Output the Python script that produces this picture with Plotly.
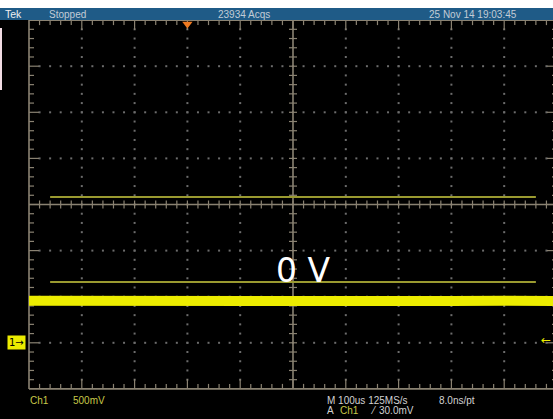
import plotly.graph_objects as go

# ---------------- data ----------------
time_us = [-500, -400, -300, -200, -100, 0, 100, 200, 300, 400, 500]
ch1_volts = [0.455, 0.452, 0.456, 0.454, 0.453, 0.455, 0.454, 0.456, 0.453, 0.455, 0.454]

ref_time_us = [-460, 460]
ref_upper_volts = [1.58, 1.58]
ref_lower_volts = [0.66, 0.66]

trigger_time_us = -200
trigger_level_v = 0.030

top_labels = ["Tek", "Stopped", "23934 Acqs", "25 Nov 14 19:03:45"]
bottom_labels = ["Ch1", "500mV", "M 100us 125MS/s", "8.0ns/pt", "A", "Ch1", "⁄", "30.0mV"]
overlay_label = "0 V"

# ---------------- scope settings ----------------
US_PER_DIV = 100.0
V_PER_DIV = 0.5
CH1_POS_DIV = -3.0          # ground marker position in divisions

W, H = 553, 419
PXX, PXY = 52.8, 46.1       # pixels per division
CX, CY = 293.0, 204.5       # pixel centre of graticule


def xv(div):
    return div * US_PER_DIV


def yv(div):
    return (div - CH1_POS_DIV) * V_PER_DIV


x_range = [xv((0 - CX) / PXX), xv((W - CX) / PXX)]
y_range = [yv((CY - H) / PXY), yv((CY - 0) / PXY)]

GRAT = "#8a8272"
DOT = "#6c6c6c"
YEL = "#ecec00"
OLIVE = "#9a9a30"

fig = go.Figure()

# ---- dotted grid ----
dx, dy = [], []
for xd in range(-4, 5):
    if xd == 0:
        continue
    for k in range(-19, 20):
        dx.append(xv(xd)); dy.append(yv(k / 5))
for yd in range(-3, 4):
    if yd == 0:
        continue
    for k in range(-24, 25):
        dx.append(xv(k / 5)); dy.append(yv(yd))
fig.add_trace(go.Scatter(x=dx, y=dy, mode="markers", hoverinfo="skip",
                         marker=dict(symbol="square", size=2, color=DOT, line_width=0)))

# ---- border and centre lines ----
bx = [xv(-5), xv(5), xv(5), xv(-5), xv(-5), None, xv(-5), xv(5), None, xv(0), xv(0)]
by = [yv(-4), yv(-4), yv(4), yv(4), yv(-4), None, yv(0), yv(0), None, yv(-4), yv(4)]
fig.add_trace(go.Scatter(x=bx, y=by, mode="lines", hoverinfo="skip",
                         line=dict(color=GRAT, width=1.6)))

# ---- ticks ----
tx, ty = [], []
for k in range(-24, 25):
    d = k / 5
    L = (10 if k % 5 == 0 else 5)
    tx += [xv(d), xv(d), None, xv(d), xv(d), None]
    ty += [yv(4), yv(4 - L / PXY), None, yv(-4), yv(-4 + L / PXY), None]
    tx += [xv(d), xv(d), None]
    ty += [yv(-4 / PXY), yv(4 / PXY), None]
for k in range(-19, 20):
    d = k / 5
    L = (10 if k % 5 == 0 else 5)
    tx += [xv(-5), xv(-5 + L / PXX), None, xv(5), xv(5 - L / PXX), None]
    ty += [yv(d), yv(d), None, yv(d), yv(d), None]
    tx += [xv(-4 / PXX), xv(4 / PXX), None]
    ty += [yv(d), yv(d), None]
fig.add_trace(go.Scatter(x=tx, y=ty, mode="lines", hoverinfo="skip",
                         line=dict(color=GRAT, width=1.2)))

# ---- reference lines ----
fig.add_trace(go.Scatter(x=ref_time_us, y=ref_upper_volts, mode="lines", hoverinfo="skip",
                         line=dict(color=OLIVE, width=2)))
fig.add_trace(go.Scatter(x=ref_time_us, y=ref_lower_volts, mode="lines", hoverinfo="skip",
                         line=dict(color=OLIVE, width=2)))

# ---- CH1 waveform ----
fig.add_trace(go.Scatter(x=time_us, y=ch1_volts, mode="lines", hoverinfo="skip",
                         line=dict(color=YEL, width=10)))

# ---- trigger position marker ----
fig.add_trace(go.Scatter(x=[trigger_time_us], y=[yv(4 - 4 / PXY)], mode="markers", hoverinfo="skip",
                         marker=dict(symbol="triangle-down", size=9, color="#f07a20", line_width=0)))

shapes = [
    dict(type="rect", xref="paper", yref="paper", x0=0, x1=1, y0=1 - 8 / H, y1=1,
         fillcolor="white", line_width=0, layer="above"),
    dict(type="rect", xref="paper", yref="paper", x0=0, x1=1, y0=1 - 20 / H, y1=1 - 8 / H,
         fillcolor="#1f5b87", line_width=0, layer="above"),
    dict(type="rect", xref="paper", yref="paper", x0=0, x1=2 / W, y0=1 - 90 / H, y1=1 - 28 / H,
         fillcolor="#f2dce4", line_width=0, layer="above"),
]


def px_ann(text, px, py, color, size=10, family="Liberation Sans", **kw):
    return dict(text=text, x=px / W, y=1 - py / H, xref="paper", yref="paper",
                xanchor="left", yanchor="middle", showarrow=False,
                font=dict(color=color, size=size, family=family), **kw)


BAR_TXT = "#c2ccd6"
WH = "#d2d2d2"
CHY = "#c8c848"
anns = [
    px_ann(top_labels[0], 3, 14, "#f0f0f0", size=10.5),
    px_ann(top_labels[1], 47, 14, BAR_TXT),
    px_ann(top_labels[2], 216, 14, BAR_TXT),
    px_ann(top_labels[3], 427, 14, BAR_TXT),
    px_ann(bottom_labels[0], 28, 400, CHY),
    px_ann(bottom_labels[1], 71, 400, CHY),
    px_ann(bottom_labels[2], 325, 400, WH),
    px_ann(bottom_labels[3], 437, 400, WH),
    px_ann(bottom_labels[4], 325, 410, WH),
    px_ann(bottom_labels[5], 338, 410, CHY),
    px_ann(bottom_labels[6], 368, 410, WH),
    px_ann(bottom_labels[7], 377, 410, WH),
    dict(text=overlay_label, x=303 / W, y=1 - 270 / H, xref="paper", yref="paper",
         xanchor="center", yanchor="middle", showarrow=False,
         font=dict(color="white", size=33, family="DejaVu Sans")),
    # ground marker
    dict(text="1→", x=7 / W, y=0.0, xref="paper", yref="y",
         xanchor="left", yanchor="middle", showarrow=False, bgcolor=YEL, borderpad=1,
         font=dict(color="black", size=10, family="DejaVu Sans")),
    # trigger level marker
    dict(text="←", x=1.0, y=trigger_level_v, xref="paper", yref="y",
         xanchor="right", yanchor="middle", showarrow=False,
         font=dict(color=YEL, size=12, family="DejaVu Sans")),
]

fig.update_layout(
    width=W, height=H, autosize=False,
    margin=dict(l=0, r=0, t=0, b=0),
    paper_bgcolor="black", plot_bgcolor="black",
    showlegend=False,
    xaxis=dict(range=x_range, visible=False, fixedrange=True),
    yaxis=dict(range=y_range, visible=False, fixedrange=True),
    shapes=shapes, annotations=anns,
)

fig.write_html("out.html",
               config={"displayModeBar": False, "staticPlot": True},
               post_script="document.body.style.margin='0';document.body.style.overflow='hidden';")
